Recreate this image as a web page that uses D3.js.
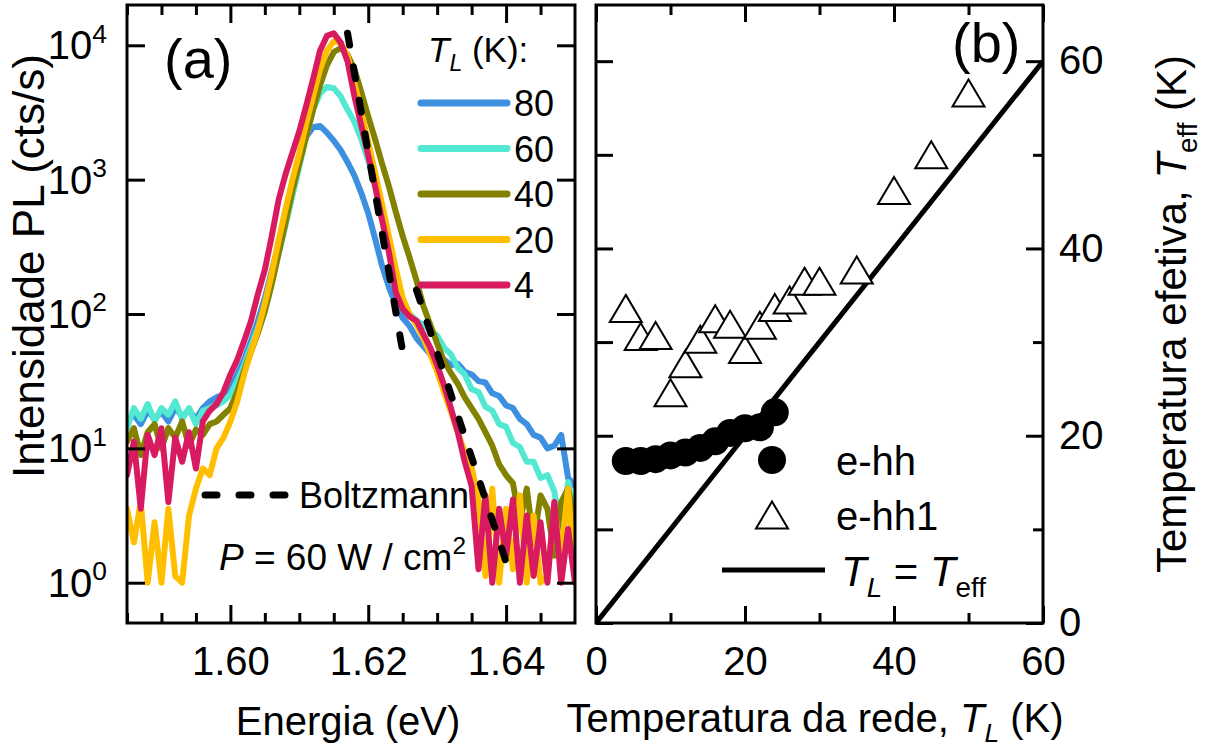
<!DOCTYPE html>
<html><head><meta charset="utf-8">
<script src="https://cdn.jsdelivr.net/npm/d3@7"></script>
<style>
body{margin:0;background:#fff}
svg text{font-family:"Liberation Sans",Arial,Helvetica,sans-serif;fill:#000}
</style>
</head><body>
<svg id="chart" width="1211" height="751"></svg>
<script>
// ---------- DATA: panel (a) PL spectra (log10 of counts/s) ----------
const energy = [1.585,1.586,1.587,1.588,1.589,1.590,1.591,1.592,1.593,1.594,
  1.595,1.596,1.597,1.598,1.599,1.600,1.601,1.602,1.603,1.604,
  1.605,1.606,1.607,1.608,1.609,1.610,1.611,1.612,1.613,1.614,
  1.615,1.616,1.617,1.618,1.619,1.620,1.621,1.622,1.623,1.624,
  1.625,1.626,1.627,1.628,1.629,1.630,1.631,1.632,1.633,1.634,
  1.635,1.636,1.637,1.638,1.639,1.640,1.641,1.642,1.643,1.644,
  1.645,1.646,1.647,1.648,1.649,1.650];

const logI80 = [1.20,1.25,1.18,1.28,1.22,1.27,1.20,1.30,1.24,1.28,
  1.22,1.30,1.35,1.38,1.40,1.45,1.55,1.66,1.80,1.95,
  2.12,2.32,2.52,2.75,2.97,3.18,3.32,3.39,3.40,3.35,
  3.29,3.22,3.13,3.03,2.90,2.75,2.56,2.36,2.20,2.07,
  1.97,1.91,1.82,1.76,1.70,1.68,1.66,1.62,1.63,1.57,
  1.55,1.50,1.49,1.41,1.39,1.32,1.30,1.22,1.18,1.10,
  1.08,1.00,1.02,1.10,0.78,0.72];

const logI60 = [1.15,1.30,1.22,1.33,1.20,1.30,1.25,1.35,1.22,1.30,
  1.18,1.28,1.30,1.32,1.35,1.40,1.50,1.62,1.76,1.90,
  2.05,2.25,2.45,2.66,2.88,3.10,3.32,3.52,3.64,3.69,
  3.68,3.62,3.52,3.43,3.30,3.14,2.96,2.78,2.55,2.28,
  2.06,2.00,1.95,1.92,1.88,1.84,1.75,1.70,1.60,1.55,
  1.44,1.42,1.31,1.28,1.18,1.16,1.04,1.01,0.90,0.90,
  0.78,0.80,0.68,0.35,0.75,0.50];

const logI40 = [1.05,1.15,0.95,1.12,1.18,1.00,1.15,1.08,1.20,1.02,
  1.14,1.10,1.18,1.20,1.25,1.30,1.42,1.58,1.72,1.86,
  2.02,2.22,2.45,2.68,2.92,3.12,3.32,3.52,3.70,3.85,
  3.95,3.98,3.93,3.82,3.65,3.47,3.30,3.12,2.95,2.76,
  2.58,2.42,2.25,2.06,1.92,1.78,1.65,1.56,1.48,1.38,
  1.30,1.22,1.12,1.02,0.88,0.80,0.74,0.45,0.70,0.30,
  0.65,0.55,0.20,0.60,0.70,0.45];

const logI20 = [0.55,0.30,0.60,0.00,0.45,0.00,0.55,0.05,0.00,0.50,
  0.70,0.85,0.80,1.00,1.08,1.20,1.35,1.55,1.72,1.88,
  2.08,2.30,2.55,2.78,3.00,3.20,3.42,3.62,3.82,3.96,
  4.03,4.02,3.92,3.72,3.50,3.28,3.05,2.82,2.58,2.34,
  2.12,2.00,1.92,1.82,1.70,1.57,1.42,1.27,1.12,0.97,
  0.86,0.62,0.05,0.70,0.00,0.55,0.10,0.65,0.00,0.50,
  0.00,0.05,0.55,0.20,0.70,0.00];

const logI4 = [0.80,1.05,0.55,1.10,0.95,1.15,0.60,1.08,0.90,1.12,
  0.85,1.20,1.28,1.33,1.42,1.55,1.66,1.80,1.95,2.15,
  2.33,2.58,2.85,3.04,3.20,3.36,3.55,3.75,3.96,4.07,
  4.09,4.02,3.88,3.62,3.40,3.18,2.95,2.70,2.46,2.16,
  2.04,1.98,1.95,1.85,1.75,1.62,1.47,1.30,1.12,0.90,
  0.72,0.10,0.65,0.00,0.55,0.20,0.62,0.00,0.50,0.05,
  0.45,0.00,0.60,0.00,0.40,0.00];

const seriesTemps = ["80","60","40","20","4"];
const seriesLogs = [logI80, logI60, logI40, logI20, logI4];

// Boltzmann fits (two dashed segments): energy and log10 intensity
const boltzE1 = [1.6170, 1.6249];
const boltzLog1 = [4.09, 1.75];
const boltzE2 = [1.6270, 1.6399];
const boltzLog2 = [2.18, 0.17];

const energyMajorTicks = [1.60, 1.62, 1.64];
const energyMinorTicks = [1.585,1.590,1.595,1.605,1.610,1.615,1.625,1.630,1.635,1.645];
const intensityTicks = [1, 10, 100, 1000, 10000];
const intensityExps = ["0","1","2","3","4"];

// ---------- DATA: panel (b) ----------
const ehhTL   = [4, 6, 8, 10, 12, 14, 16, 18, 20, 22, 24];
const ehhTeff = [17.3, 17.3, 17.5, 17.9, 18.2, 18.7, 19.4, 20.3, 20.8, 20.9, 22.5];
const ehh1TL   = [4, 6, 8, 10, 12, 14, 16, 18, 20, 22, 24, 26, 28, 30, 35, 40, 45, 50];
const ehh1Teff = [33.6, 30.6, 30.7, 24.6, 27.7, 30.3, 32.5, 31.9, 29.2, 31.8, 33.7, 34.5, 36.5, 36.5, 37.7, 46.2, 50.0, 56.6];
const identityTL = [0, 60];
const tempTicksMajor = [0, 20, 40, 60];
const tempTicksMinor = [10, 30, 50];

// ---------- STYLES ----------
const seriesColors = ["#3d8fdf", "#52e8d2", "#828200", "#ffbf00", "#d81b60"];

const svg = d3.select("#chart");

function rich(sel, x, y, size, parts, anchor) {
  const t = sel.append("text").attr("x", x).attr("y", y)
    .attr("font-size", size).attr("text-anchor", anchor || "start");
  let shift = 0;
  parts.forEach(p => {
    const s = p.sub ? size * 0.26 : (p.sup ? -size * 0.42 : 0);
    const ts = t.append("tspan").text(p.t).attr("dy", s - shift);
    if (p.sub || p.sup) ts.attr("font-size", size * 0.66);
    if (p.it) ts.attr("font-style", "italic");
    shift = s;
  });
  return t;
}

function styleAxis(g) {
  g.select(".domain").remove();
  g.selectAll(".tick line").attr("stroke", "#000").attr("stroke-width", 3);
  g.selectAll(".tick text").attr("font-size", 40).attr("fill", "#000");
}

// ================= PANEL (a) =================
const A = {l: 127, r: 575, t: 5, b: 623};
const xA = d3.scaleLinear().domain([1.585, 1.65]).range([A.l, A.r]);
const yA = d3.scaleLog().domain([Math.pow(10, -0.3), Math.pow(10, 4.3)]).range([A.b, A.t]);

svg.append("defs").append("clipPath").attr("id", "clipA")
  .append("rect").attr("x", A.l).attr("y", A.t).attr("width", A.r - A.l).attr("height", A.b - A.t);

const gSpec = svg.append("g").attr("clip-path", "url(#clipA)");
const specLine = d3.line()
  .x((d, i) => xA(energy[i]))
  .y(d => yA(Math.pow(10, d)));

seriesLogs.forEach((s, i) => {
  gSpec.append("path").datum(s)
    .attr("d", specLine)
    .attr("fill", "none")
    .attr("stroke", seriesColors[i])
    .attr("stroke-width", 6)
    .attr("stroke-linejoin", "round")
    .attr("stroke-linecap", "round");
});

const boltzLine = d3.line().x(d => xA(d[0])).y(d => yA(Math.pow(10, d[1])));
[[boltzE1, boltzLog1], [boltzE2, boltzLog2]].forEach(([es, ls]) => {
  gSpec.append("path").datum(es.map((e, i) => [e, ls[i]]))
    .attr("d", boltzLine)
    .attr("fill", "none").attr("stroke", "#000")
    .attr("stroke-width", 7).attr("stroke-linecap", "round")
    .attr("stroke-dasharray", "12,22");
});

// axes (a)
styleAxis(svg.append("g").attr("transform", `translate(0,${A.b})`)
  .call(d3.axisBottom(xA).tickValues(energyMinorTicks).tickSize(-10).tickFormat("")));
styleAxis(svg.append("g").attr("transform", `translate(0,${A.b})`)
  .call(d3.axisBottom(xA).tickValues(energyMajorTicks).tickSize(-18).tickPadding(24).tickFormat(d3.format(".2f"))));
styleAxis(svg.append("g").attr("transform", `translate(0,${A.t})`)
  .call(d3.axisTop(xA).tickValues(energyMinorTicks).tickSize(-10).tickFormat("")));
styleAxis(svg.append("g").attr("transform", `translate(0,${A.t})`)
  .call(d3.axisTop(xA).tickValues(energyMajorTicks).tickSize(-18).tickFormat("")));
styleAxis(svg.append("g").attr("transform", `translate(${A.l},0)`)
  .call(d3.axisLeft(yA).tickValues(intensityTicks).tickSize(-18).tickFormat("")));
styleAxis(svg.append("g").attr("transform", `translate(${A.r},0)`)
  .call(d3.axisRight(yA).tickValues(intensityTicks).tickSize(-18).tickFormat("")));

intensityTicks.forEach((v, i) => {
  rich(svg, 107, yA(v) + 14, 40, [{t: "10"}, {t: intensityExps[i], sup: true}], "end");
});

svg.append("rect").attr("x", A.l).attr("y", A.t).attr("width", A.r - A.l).attr("height", A.b - A.t)
  .attr("fill", "none").attr("stroke", "#000").attr("stroke-width", 3);

svg.append("text").attr("x", 348).attr("y", 735).attr("text-anchor", "middle")
  .attr("font-size", 40).text("Energia (eV)");
svg.append("text").attr("transform", "translate(44,266) rotate(-90)")
  .attr("text-anchor", "middle").attr("font-size", 44).text("Intensidade PL (cts/s)");

svg.append("text").attr("x", 164).attr("y", 78).attr("font-size", 56).text("(a)");

// legend (a)
rich(svg, 428, 62, 35, [{t: "T", it: true}, {t: "L", it: true, sub: true}, {t: " (K):"}]);
const legY0 = 103, legDy = 45.5;
seriesTemps.forEach((t, i) => {
  const y = legY0 + legDy * i;
  svg.append("line").attr("x1", 421).attr("x2", 507).attr("y1", y).attr("y2", y)
    .attr("stroke", seriesColors[i]).attr("stroke-width", 7).attr("stroke-linecap", "round");
  svg.append("text").attr("x", 514).attr("y", y + 13).attr("font-size", 36).text(t);
});
svg.append("line").attr("x1", 205).attr("x2", 289).attr("y1", 495).attr("y2", 495)
  .attr("stroke", "#000").attr("stroke-width", 7).attr("stroke-linecap", "round")
  .attr("stroke-dasharray", "12,22");
svg.append("text").attr("x", 299).attr("y", 508).attr("font-size", 36).text("Boltzmann");
rich(svg, 219, 570, 37, [{t: "P", it: true}, {t: " = 60 W / cm"}, {t: "2", sup: true}]);

// ================= PANEL (b) =================
const B = {l: 596, r: 1043, t: 5, b: 623};
const xB = d3.scaleLinear().domain([0, 60]).range([B.l, B.r]);
const yB = d3.scaleLinear().domain([0, 66]).range([B.b, B.t]);

svg.append("defs").append("clipPath").attr("id", "clipB")
  .append("rect").attr("x", B.l).attr("y", B.t).attr("width", B.r - B.l).attr("height", B.b - B.t);
const gB = svg.append("g").attr("clip-path", "url(#clipB)");

gB.append("path").datum(identityTL)
  .attr("d", d3.line().x(d => xB(d)).y(d => yB(d)))
  .attr("stroke", "#000").attr("stroke-width", 5).attr("fill", "none");

const triSide = 32, triH = 27;
const triPath = (cx, cy) => {
  const p = d3.path();
  p.moveTo(cx, cy - triH / 2); p.lineTo(cx + triSide / 2, cy + triH / 2);
  p.lineTo(cx - triSide / 2, cy + triH / 2); p.closePath();
  return p.toString();
};

gB.selectAll("path.tri").data(ehh1TL).enter().append("path").attr("class", "tri")
  .attr("d", (d, i) => triPath(xB(d), yB(ehh1Teff[i])))
  .attr("fill", "#fff").attr("stroke", "#000").attr("stroke-width", 2);

gB.selectAll("circle.ehh").data(ehhTL).enter().append("circle").attr("class", "ehh")
  .attr("cx", d => xB(d)).attr("cy", (d, i) => yB(ehhTeff[i])).attr("r", 14).attr("fill", "#000");

// axes (b)
styleAxis(svg.append("g").attr("transform", `translate(0,${B.b})`)
  .call(d3.axisBottom(xB).tickValues(tempTicksMinor).tickSize(-10).tickFormat("")));
styleAxis(svg.append("g").attr("transform", `translate(0,${B.b})`)
  .call(d3.axisBottom(xB).tickValues(tempTicksMajor).tickSize(-17).tickPadding(24).tickFormat(d3.format("d"))));
styleAxis(svg.append("g").attr("transform", `translate(0,${B.t})`)
  .call(d3.axisTop(xB).tickValues(tempTicksMinor).tickSize(-10).tickFormat("")));
styleAxis(svg.append("g").attr("transform", `translate(0,${B.t})`)
  .call(d3.axisTop(xB).tickValues(tempTicksMajor).tickSize(-17).tickFormat("")));
styleAxis(svg.append("g").attr("transform", `translate(${B.l},0)`)
  .call(d3.axisLeft(yB).tickValues(tempTicksMajor.concat(tempTicksMinor)).tickSize(-17).tickFormat("")));
styleAxis(svg.append("g").attr("transform", `translate(${B.r},0)`)
  .call(d3.axisRight(yB).tickValues(tempTicksMinor).tickSize(-10).tickFormat("")));
styleAxis(svg.append("g").attr("transform", `translate(${B.r},0)`)
  .call(d3.axisRight(yB).tickValues(tempTicksMajor).tickSize(-17).tickPadding(16).tickFormat(d3.format("d"))));

svg.append("rect").attr("x", B.l).attr("y", B.t).attr("width", B.r - B.l).attr("height", B.b - B.t)
  .attr("fill", "none").attr("stroke", "#000").attr("stroke-width", 3);

svg.append("text").attr("x", 952).attr("y", 62).attr("font-size", 56).text("(b)");

rich(svg, 815, 732, 40, [{t: "Temperatura da rede,  "}, {t: "T", it: true}, {t: "L", it: true, sub: true}, {t: " (K)"}], "middle");
rich(svg.append("g").attr("transform", "translate(1186,314) rotate(-90)"), 0, 0, 42,
  [{t: "Temperatura efetiva,  "}, {t: "T", it: true}, {t: "eff", sub: true}, {t: " (K)"}], "middle");

// legend (b)
svg.append("circle").attr("cx", 772).attr("cy", 460).attr("r", 14).attr("fill", "#000");
svg.append("text").attr("x", 836).attr("y", 475).attr("font-size", 40).text("e-hh");
svg.append("path").attr("d", triPath(772, 515)).attr("fill", "#fff").attr("stroke", "#000").attr("stroke-width", 2);
svg.append("text").attr("x", 836).attr("y", 530).attr("font-size", 40).text("e-hh1");
svg.append("line").attr("x1", 722).attr("x2", 825).attr("y1", 570).attr("y2", 570)
  .attr("stroke", "#000").attr("stroke-width", 5);
rich(svg, 841, 586, 42, [{t: "T", it: true}, {t: "L", it: true, sub: true}, {t: " = "}, {t: "T", it: true}, {t: "eff", sub: true}]);
</script>
</body></html>
